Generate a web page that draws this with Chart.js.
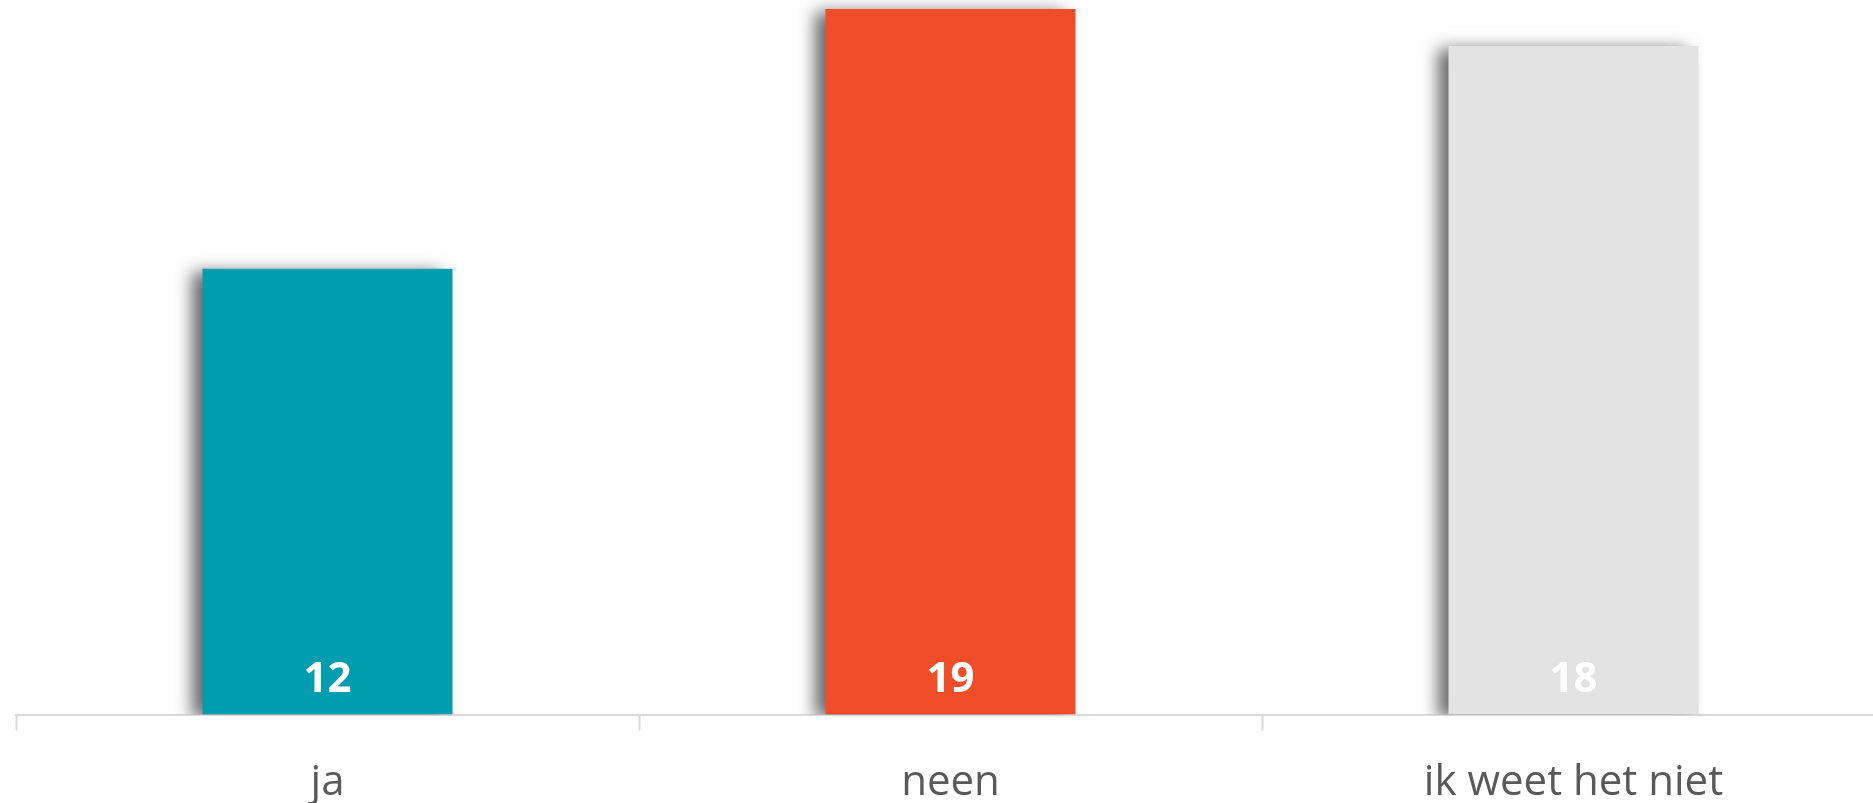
<!DOCTYPE html>
<html>
<head>
<meta charset="utf-8">
<script src="https://cdn.jsdelivr.net/npm/chart.js@4/dist/chart.umd.min.js"></script>
<style>
  html, body { margin: 0; padding: 0; background: #fff; overflow: hidden; }
  #wrap { position: relative; width: 1885px; height: 803px; }
</style>
</head>
<body>
<div id="wrap"><canvas id="myChart"></canvas></div>
<script>
// chart data
var categories = ['ja', 'neen', 'ik weet het niet'];
var answers = [12, 19, 18];
var barColors = ['#009DAE', '#F04E28', '#E3E3E3'];

// drop shadow behind bars
var barShadow = {
    id: 'barShadow',
    beforeDatasetsDraw: function(chart) {
        var ctx = chart.ctx;
        ctx.save();
        ctx.shadowColor = 'rgba(0,0,0,0.6)';
        ctx.shadowBlur = 16;
        ctx.shadowOffsetX = -11;
        ctx.shadowOffsetY = 3;
    },
    afterDatasetsDraw: function(chart) {
        chart.ctx.restore();
    }
};

// value labels at the bottom of each bar
var valueLabels = {
    id: 'valueLabels',
    afterDraw: function(chart) {
        var ctx = chart.ctx;
        var meta = chart.getDatasetMeta(0);
        ctx.save();
        ctx.font = 'bold 42px "Open Sans"';
        ctx.fillStyle = '#ffffff';
        ctx.textAlign = 'center';
        ctx.textBaseline = 'alphabetic';
        meta.data.forEach(function(bar, i) {
            ctx.fillText(answers[i], bar.x, bar.base - 23);
        });
        ctx.restore();
    }
};

new Chart('myChart', {
    type: 'bar',
    data: {
        labels: categories,
        datasets: [{
            data: answers,
            backgroundColor: barColors,
            borderWidth: 0,
            barPercentage: 0.8,
            categoryPercentage: 0.5016
        }]
    },
    options: {
        responsive: true,
        maintainAspectRatio: false,
        animation: false,
        layout: { padding: { left: 16, right: 0, top: 0, bottom: 0 } },
        plugins: {
            legend: { display: false },
            tooltip: { enabled: false }
        },
        scales: {
            y: {
                display: false,
                min: 0,
                max: 19.24
            },
            x: {
                border: { display: true, color: '#D9D9D9', width: 2 },
                grid: {
                    display: true,
                    drawOnChartArea: false,
                    drawTicks: true,
                    tickLength: 16,
                    tickWidth: 2,
                    tickColor: '#D9D9D9'
                },
                ticks: {
                    color: '#595959',
                    padding: 27,
                    font: { family: '"Open Sans"', size: 42 }
                },
                afterFit: function(scale) {
                    scale.height = 88.5;
                }
            }
        }
    },
    plugins: [barShadow, valueLabels]
});
</script>
</body>
</html>
